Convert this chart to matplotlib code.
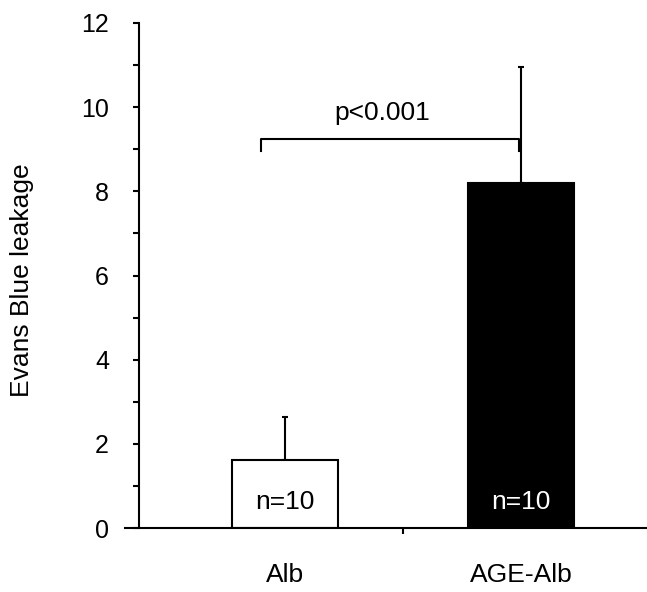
import matplotlib.pyplot as plt
import numpy as np

plt.rcParams['font.family'] = ['Liberation Sans', 'DejaVu Sans']

# Data
groups = ['Alb', 'AGE-Alb']
means = [1.62, 8.2]
err_up = [1.02, 2.76]
n_labels = ['n=10', 'n=10']
bar_colors = ['white', 'black']
n_colors = ['black', 'white']
p_text = 'p<0.001'
bracket_y = 9.24
bracket_leg = 0.28

fig = plt.figure(figsize=(6.47, 5.92), dpi=100)
ax = fig.add_axes([125 / 647, 1 - 528 / 592, 522 / 647, 505 / 592])

x = np.arange(len(groups))
ax.bar(x, means, width=0.45, color=bar_colors, edgecolor='black',
       linewidth=1.5, zorder=2)
ax.errorbar(x, means, yerr=[np.zeros(len(means)), err_up], fmt='none',
            ecolor='black', elinewidth=1.5, capsize=2.5, capthick=1.5,
            zorder=1)

for xi, lab, col in zip(x, n_labels, n_colors):
    ax.text(xi, 0.62, lab, ha='center', va='center', color=col,
            fontsize=19, zorder=3)

# significance bracket
bx = [-0.10, -0.10, 0.99, 0.99]
by = [bracket_y - bracket_leg, bracket_y, bracket_y, bracket_y - bracket_leg]
ax.plot(bx, by, color='black', lw=1.5)
ax.text(0.41, bracket_y + 0.33, p_text, ha='center', va='bottom', fontsize=19)

ax.set_xlim(-0.678, 1.534)
ax.set_ylim(0, 12)

ax.spines['top'].set_visible(False)
ax.spines['right'].set_visible(False)
ax.spines['left'].set_position(('data', -0.619))
for s in ('left', 'bottom'):
    ax.spines[s].set_linewidth(1.5)

ax.set_yticks(np.arange(0, 13, 2))
ax.set_yticks(np.arange(1, 12, 2), minor=True)
ax.tick_params(axis='y', which='both', direction='out', length=4.5,
               width=1.5, labelsize=18, pad=17)

ax.set_xticks(x)
ax.set_xticklabels(groups)
ax.set_xticks([0.5], minor=True)
ax.tick_params(axis='x', which='major', length=0, labelsize=19, pad=25)
ax.tick_params(axis='x', which='minor', direction='out', length=4.5,
               width=1.5)

ax.set_ylabel('Evans Blue leakage', fontsize=19)
ax.yaxis.set_label_coords(-0.174, 0.49)

fig.savefig('out.png', dpi=100)
